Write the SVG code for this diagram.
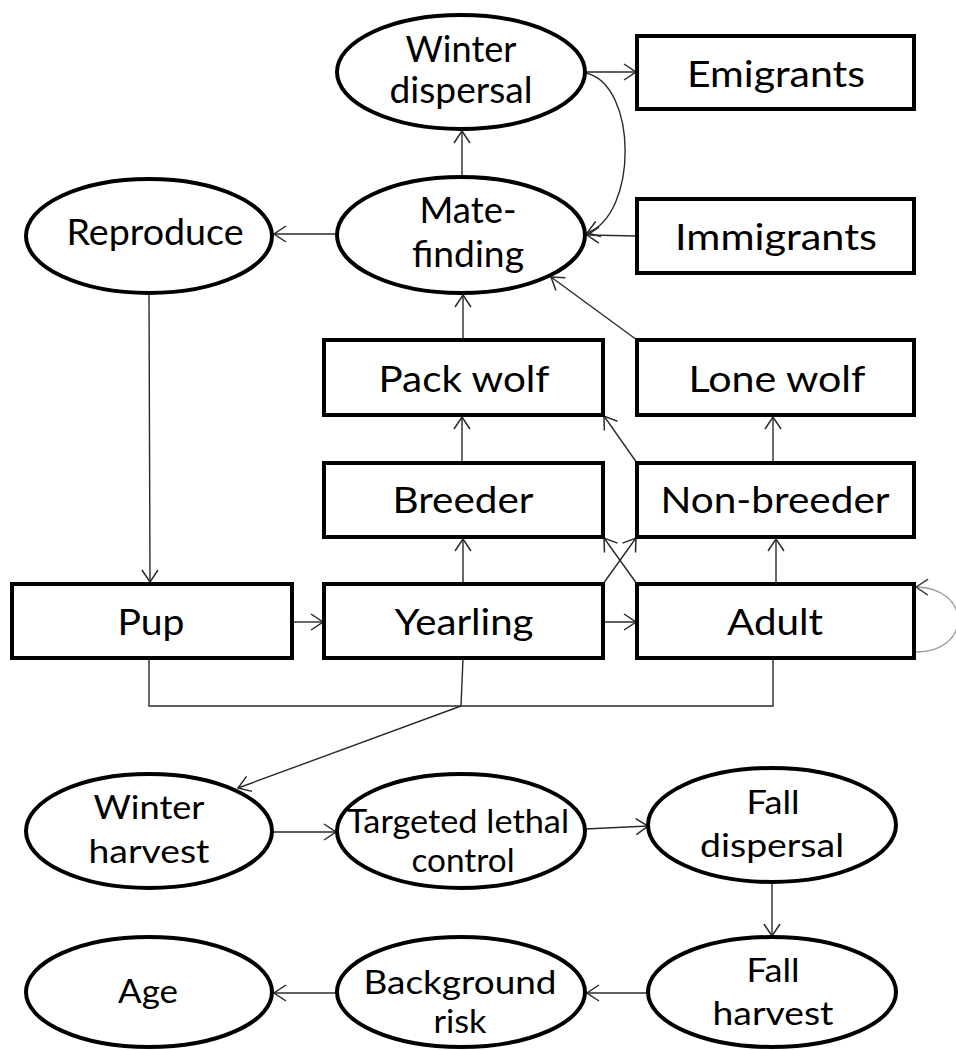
<svg xmlns="http://www.w3.org/2000/svg" width="956" height="1050" viewBox="0 0 956 1050">
<style>
.n{fill:#fff;stroke:#000;stroke-width:4}
.t{font-family:Lato,"Liberation Sans",sans-serif;font-size:37px;fill:#000;text-anchor:middle}
.s{font-size:32px}
.c{fill:none;stroke:#2a2a2a;stroke-width:1.4}
.a{marker-end:url(#ah)}
.loop{fill:none;stroke:#9a9a9a;stroke-width:1.4;marker-end:url(#ahg)}
</style>
<defs>
<marker id="ah" viewBox="0 0 14 20" refX="13" refY="10" markerWidth="14" markerHeight="20" markerUnits="userSpaceOnUse" orient="auto"><path d="M1,2 L13,10 L1,18" fill="none" stroke="#2a2a2a" stroke-width="1.5"/></marker>
<marker id="ahg" viewBox="0 0 14 20" refX="13" refY="10" markerWidth="14" markerHeight="20" markerUnits="userSpaceOnUse" orient="auto"><path d="M1,2 L13,10 L1,18" fill="none" stroke="#444" stroke-width="1.5"/></marker>
</defs>
<rect width="956" height="1050" fill="#fff"/>
<g id="connectors">
<line class="c a" x1="462" y1="177" x2="462" y2="131"/>
<line class="c a" x1="586" y1="72" x2="636" y2="72"/>
<path class="c a" d="M586 73 C638 85 638 215 587 233"/>
<line class="c a" x1="637" y1="236" x2="587" y2="235"/>
<line class="c a" x1="337" y1="234" x2="274" y2="234"/>
<line class="c a" x1="149" y1="293" x2="150" y2="582"/>
<line class="c a" x1="463" y1="340" x2="463" y2="295"/>
<line class="c a" x1="637" y1="340" x2="551" y2="277"/>
<line class="c a" x1="462" y1="463" x2="462" y2="417"/>
<line class="c a" x1="637" y1="463" x2="604" y2="416"/>
<line class="c a" x1="773" y1="463" x2="773" y2="417"/>
<line class="c a" x1="463" y1="584" x2="463" y2="539"/>
<line class="c a" x1="603" y1="584" x2="636" y2="538"/>
<line class="c a" x1="637" y1="584" x2="604" y2="538"/>
<line class="c a" x1="776" y1="584" x2="776" y2="539"/>
<line class="c a" x1="292" y1="622" x2="323" y2="622"/>
<line class="c a" x1="603" y1="622" x2="636" y2="622"/>
<path class="loop" d="M916 652 C972 652 972 588 916 587"/>
<polyline class="c" points="149,658 149,706 773,706 773,658"/>
<line class="c" x1="463" y1="658" x2="461" y2="706"/>
<line class="c a" x1="461" y1="706" x2="238" y2="788"/>
<line class="c a" x1="272" y1="832" x2="336" y2="832"/>
<line class="c a" x1="585" y1="829" x2="648" y2="826"/>
<line class="c a" x1="772" y1="883" x2="772" y2="936"/>
<line class="c a" x1="649" y1="993" x2="587" y2="993"/>
<line class="c a" x1="337" y1="993" x2="274" y2="993"/>
</g>
<g id="winter-dispersal"><ellipse class="n" cx="461" cy="72" rx="124" ry="57"/><text class="t" x="461" y="62" textLength="111" lengthAdjust="spacingAndGlyphs">Winter</text><text class="t" x="461" y="103" textLength="143" lengthAdjust="spacingAndGlyphs">dispersal</text></g>
<g id="emigrants"><rect class="n" x="637" y="36" width="277" height="73"/><text class="t" x="776" y="87" textLength="178" lengthAdjust="spacingAndGlyphs">Emigrants</text></g>
<g id="mate-finding"><ellipse class="n" cx="461" cy="235" rx="124" ry="58"/><text class="t" x="468" y="223" textLength="97" lengthAdjust="spacingAndGlyphs">Mate-</text><text class="t" x="468" y="267" textLength="112" lengthAdjust="spacingAndGlyphs">finding</text></g>
<g id="immigrants"><rect class="n" x="637" y="199" width="277" height="74"/><text class="t" x="776" y="250" textLength="202" lengthAdjust="spacingAndGlyphs">Immigrants</text></g>
<g id="reproduce"><ellipse class="n" cx="149" cy="236" rx="123" ry="57"/><text class="t" x="155" y="245" textLength="177" lengthAdjust="spacingAndGlyphs">Reproduce</text></g>
<g id="pack-wolf"><rect class="n" x="324" y="340" width="279" height="75"/><text class="t" x="464" y="392" textLength="171" lengthAdjust="spacingAndGlyphs">Pack wolf</text></g>
<g id="lone-wolf"><rect class="n" x="637" y="340" width="277" height="75"/><text class="t" x="777" y="392" textLength="177" lengthAdjust="spacingAndGlyphs">Lone wolf</text></g>
<g id="breeder"><rect class="n" x="324" y="463" width="279" height="74"/><text class="t" x="463" y="513" textLength="141" lengthAdjust="spacingAndGlyphs">Breeder</text></g>
<g id="non-breeder"><rect class="n" x="637" y="463" width="277" height="74"/><text class="t" x="775" y="513" textLength="229" lengthAdjust="spacingAndGlyphs">Non-breeder</text></g>
<g id="pup"><rect class="n" x="12" y="584" width="280" height="74"/><text class="t" x="151" y="635" textLength="67" lengthAdjust="spacingAndGlyphs">Pup</text></g>
<g id="yearling"><rect class="n" x="324" y="584" width="279" height="74"/><text class="t" x="464" y="635" textLength="139" lengthAdjust="spacingAndGlyphs">Yearling</text></g>
<g id="adult"><rect class="n" x="637" y="584" width="277" height="74"/><text class="t" x="775" y="635" textLength="96" lengthAdjust="spacingAndGlyphs">Adult</text></g>
<g id="winter-harvest"><ellipse class="n" cx="149" cy="831" rx="123" ry="57"/><text class="t s" x="149" y="819" textLength="111" lengthAdjust="spacingAndGlyphs">Winter</text><text class="t s" x="149" y="863" textLength="121" lengthAdjust="spacingAndGlyphs">harvest</text></g>
<g id="targeted-lethal-control"><ellipse class="n" cx="461" cy="831" rx="124" ry="57"/><text class="t s" x="458" y="833" textLength="222" lengthAdjust="spacingAndGlyphs">Targeted lethal</text><text class="t s" x="463" y="872" textLength="103" lengthAdjust="spacingAndGlyphs">control</text></g>
<g id="fall-dispersal"><ellipse class="n" cx="772" cy="825" rx="124" ry="57"/><text class="t s" x="773" y="814" textLength="53" lengthAdjust="spacingAndGlyphs">Fall</text><text class="t s" x="772" y="857" textLength="144" lengthAdjust="spacingAndGlyphs">dispersal</text></g>
<g id="age"><ellipse class="n" cx="149" cy="992" rx="123" ry="55"/><text class="t s" x="148" y="1003" textLength="60" lengthAdjust="spacingAndGlyphs">Age</text></g>
<g id="background-risk"><ellipse class="n" cx="461" cy="992" rx="124" ry="55"/><text class="t s" x="460" y="994" textLength="193" lengthAdjust="spacingAndGlyphs">Background</text><text class="t s" x="460" y="1033" textLength="53" lengthAdjust="spacingAndGlyphs">risk</text></g>
<g id="fall-harvest"><ellipse class="n" cx="772" cy="992" rx="124" ry="55"/><text class="t s" x="773" y="982" textLength="53" lengthAdjust="spacingAndGlyphs">Fall</text><text class="t s" x="773" y="1025" textLength="121" lengthAdjust="spacingAndGlyphs">harvest</text></g>
</svg>
